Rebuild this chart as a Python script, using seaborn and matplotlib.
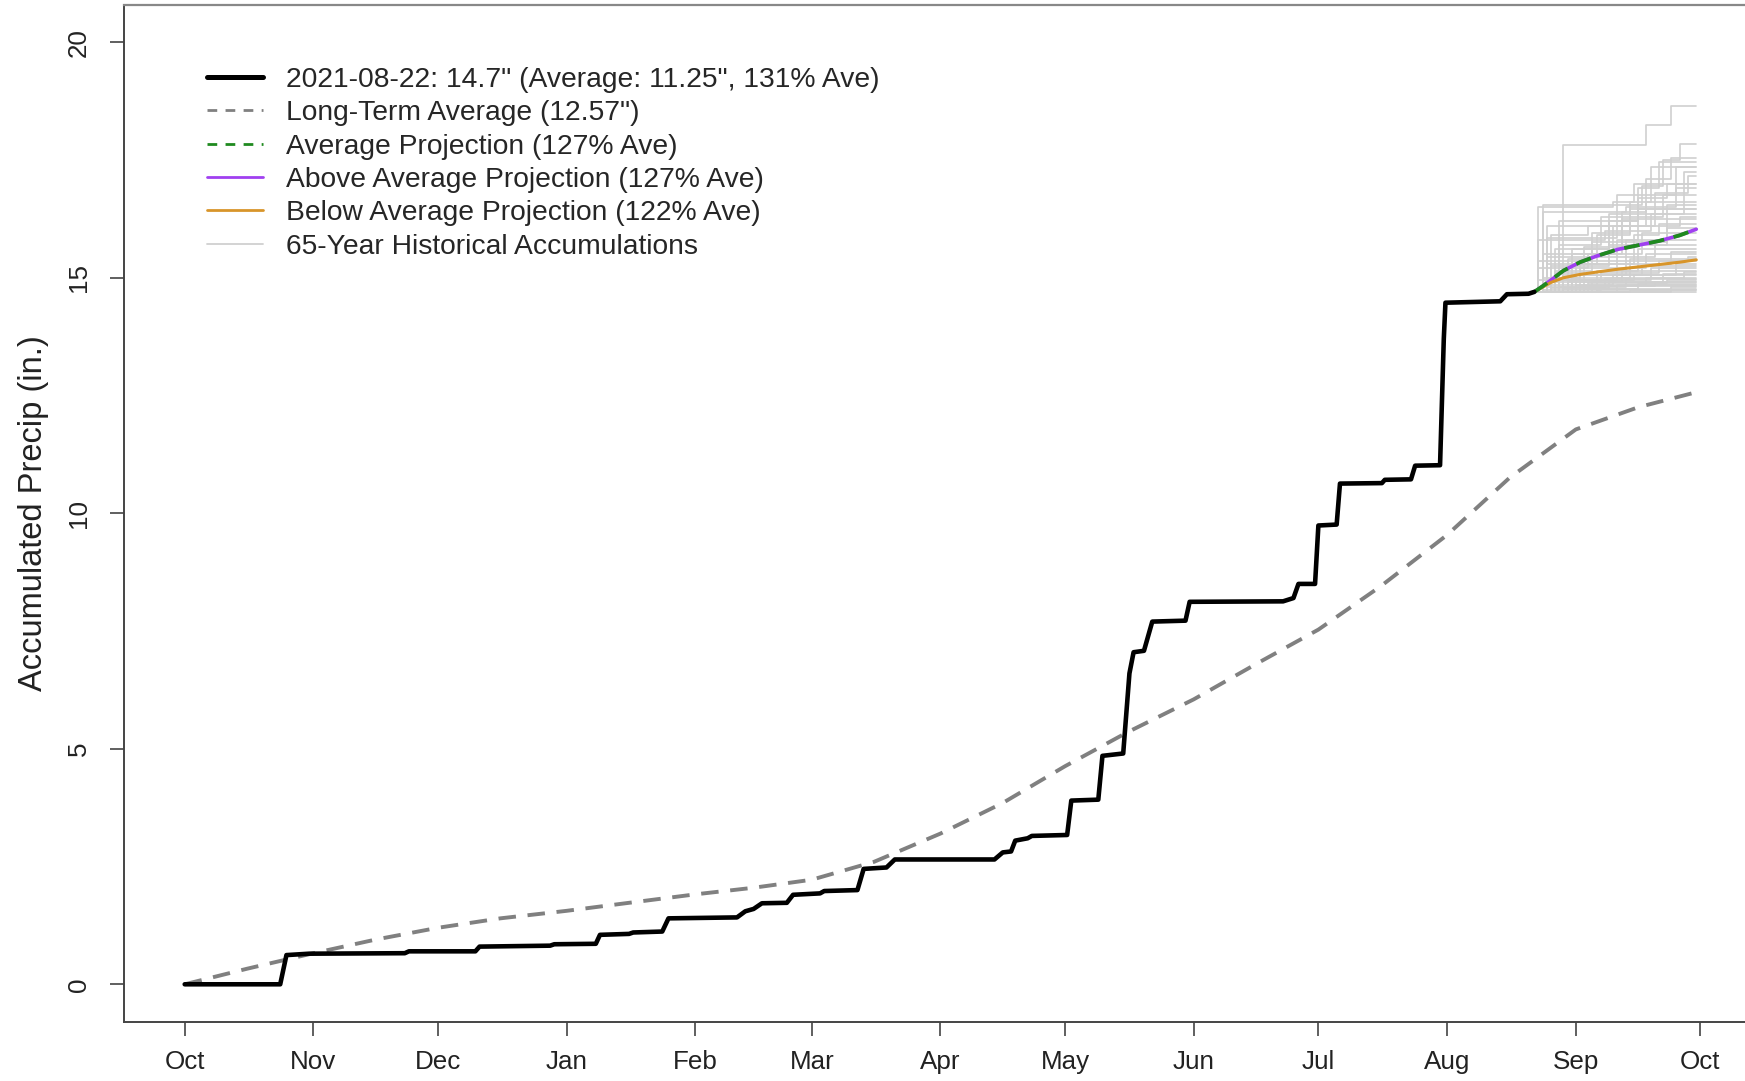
import pandas as pd
import seaborn as sns
import matplotlib.pyplot as plt

# x = day of water year (0 = Oct 1), y = accumulated precip (in.)
obs_day = [0, 23, 24.5, 30, 53, 54, 70, 71, 88, 89, 99, 100, 107, 108, 115, 116.5,
           133, 135, 137, 139, 145, 146.5, 153, 154, 162, 163.5, 169, 171, 195, 197,
           199, 200, 203, 204, 212.5, 213.5, 220, 221, 226, 227.5, 228.5, 231, 233,
           241, 242, 264.5, 267, 268.2, 272.2, 273, 277.4, 278.2, 288.3, 289, 295.3,
           296.3, 302.3, 303.2, 303.6, 316.8, 318.4, 323.6, 325]
obs_precip = [0, 0, 0.62, 0.65, 0.66, 0.7, 0.7, 0.8, 0.82, 0.85, 0.86, 1.05, 1.07, 1.1,
              1.12, 1.4, 1.42, 1.55, 1.6, 1.72, 1.73, 1.9, 1.93, 1.98, 2.0, 2.45, 2.48,
              2.65, 2.65, 2.8, 2.82, 3.05, 3.1, 3.15, 3.17, 3.9, 3.92, 4.85, 4.9, 6.6,
              7.05, 7.08, 7.7, 7.72, 8.12, 8.13, 8.2, 8.5, 8.5, 9.74, 9.76, 10.63, 10.64,
              10.71, 10.72, 11.01, 11.02, 13.7, 14.47, 14.5, 14.65, 14.66, 14.7]

avg_day = [0, 15, 31, 46, 61, 76, 92, 107, 123, 137, 151, 166, 182, 197, 212, 227,
           243, 258, 273, 288, 304, 319, 335, 350, 364]
avg_precip = [0, 0.33, 0.66, 0.95, 1.2, 1.4, 1.56, 1.73, 1.91, 2.05, 2.22, 2.6, 3.2,
              3.85, 4.63, 5.35, 6.05, 6.8, 7.53, 8.45, 9.54, 10.75, 11.78, 12.25, 12.57]

proj_day = [325, 327, 329, 332, 336, 340, 345, 350, 355, 360, 364]
proj_average = [14.7, 14.82, 14.95, 15.15, 15.33, 15.46, 15.6, 15.69, 15.78, 15.9, 16.03]
proj_above = [14.7, 14.82, 14.95, 15.15, 15.33, 15.46, 15.6, 15.69, 15.78, 15.9, 16.03]
proj_below = [14.7, 14.8, 14.9, 15.0, 15.07, 15.12, 15.18, 15.23, 15.28, 15.33, 15.38]

# historical years from Aug 22: (day, accumulated) step points
hist_steps = [
    [(325, 14.7), (332, 17.82), (352, 18.24), (358, 18.65)],
    [(325, 14.7), (327, 16.55), (351, 16.95), (356, 17.5), (360, 17.83)],
    [(325, 14.7), (330, 15.6), (343, 16.2), (350, 16.9), (355, 17.45)],
    [(325, 14.7), (328, 15.3), (340, 15.9), (348, 16.6), (353, 17.35)],
    [(325, 14.7), (334, 15.5), (346, 16.4), (352, 17.1), (358, 17.55)],
    [(325, 14.7), (326, 16.5), (344, 16.6), (349, 17.0), (361, 17.25)],
    [(325, 14.7), (329, 15.9), (338, 16.1), (354, 16.8), (362, 17.15)],
    [(325, 14.7), (336, 15.2), (345, 15.8), (350, 16.7), (357, 17.0)],
    [(325, 14.7), (327, 16.4), (347, 16.5), (359, 16.9)],
    [(325, 14.7), (331, 15.7), (341, 16.3), (356, 16.75)],
    [(325, 14.7), (328, 16.1), (352, 16.6)],
    [(325, 14.7), (333, 15.4), (339, 15.95), (348, 16.45)],
    [(325, 14.7), (326, 15.8), (342, 16.0), (353, 16.35)],
    [(325, 14.7), (330, 15.1), (337, 15.65), (346, 16.25)],
    [(325, 14.7), (327, 15.5), (344, 16.1), (360, 16.3)],
    [(325, 14.7), (335, 15.3), (349, 15.9), (355, 16.15)],
    [(325, 14.7), (329, 15.25), (343, 15.7), (357, 16.05)],
    [(325, 14.7), (326, 15.2), (338, 15.5), (351, 15.95)],
    [(325, 14.7), (332, 15.05), (347, 15.8)],
    [(325, 14.7), (328, 15.45), (354, 15.7)],
    [(325, 14.7), (340, 15.15), (350, 15.6)],
    [(325, 14.7), (327, 15.0), (336, 15.3), (358, 15.55)],
    [(325, 14.7), (331, 14.95), (345, 15.2), (352, 15.5)],
    [(325, 14.7), (326, 15.35), (362, 15.45)],
    [(325, 14.7), (334, 15.0), (348, 15.4)],
    [(325, 14.7), (329, 14.9), (341, 15.1), (355, 15.35)],
    [(325, 14.7), (337, 15.05), (359, 15.3)],
    [(325, 14.7), (327, 14.85), (344, 15.05), (351, 15.25)],
    [(325, 14.7), (330, 14.95), (353, 15.2)],
    [(325, 14.7), (339, 14.9), (346, 15.15)],
    [(325, 14.7), (328, 14.8), (342, 15.0), (361, 15.12)],
    [(325, 14.7), (333, 14.9), (356, 15.08)],
    [(325, 14.7), (326, 14.95), (349, 15.05)],
    [(325, 14.7), (335, 14.85), (352, 15.0)],
    [(325, 14.7), (331, 14.8), (347, 14.97)],
    [(325, 14.7), (338, 14.88), (357, 14.95)],
    [(325, 14.7), (329, 14.78), (343, 14.92)],
    [(325, 14.7), (336, 14.82), (354, 14.9)],
    [(325, 14.7), (332, 14.76), (350, 14.87)],
    [(325, 14.7), (345, 14.84)],
    [(325, 14.7), (327, 14.75), (341, 14.82)],
    [(325, 14.7), (358, 14.8)],
    [(325, 14.7), (337, 14.77)],
    [(325, 14.7), (348, 14.75)],
    [(325, 14.7), (340, 14.73)],
    [(325, 14.7)],
    [(325, 14.7), (330, 15.15), (339, 15.75), (357, 16.55)],
    [(325, 14.7), (334, 15.6), (343, 16.35), (361, 17.0)],
    [(325, 14.7), (328, 15.85), (345, 16.75), (359, 17.35)],
    [(325, 14.7), (331, 16.2), (350, 16.45)],
]
hist_end_day = 364

month_ticks = [0, 31, 61, 92, 123, 151, 182, 212, 243, 273, 304, 335, 365]
month_labels = ['Oct', 'Nov', 'Dec', 'Jan', 'Feb', 'Mar', 'Apr', 'May', 'Jun',
                'Jul', 'Aug', 'Sep', 'Oct']
y_ticks = [0, 5, 10, 15, 20]

labels = ['2021-08-22: 14.7" (Average: 11.25", 131% Ave)',
          'Long-Term Average (12.57")',
          'Average Projection (127% Ave)',
          'Above Average Projection (127% Ave)',
          'Below Average Projection (122% Ave)',
          '65-Year Historical Accumulations']

sns.set_theme(style='white')
plt.rcParams['font.family'] = ['Liberation Sans', 'DejaVu Sans']

rows = []
for i, steps in enumerate(hist_steps):
    for d, v in steps:
        rows.append((i, d, v))
    rows.append((i, hist_end_day, steps[-1][1]))
hist_df = pd.DataFrame(rows, columns=['year', 'day', 'precip'])

fig = plt.figure(figsize=(17.45, 10.81), dpi=100)
ax = fig.add_axes([0.0711, 0.0546, 0.9381, 0.9412])

sns.lineplot(data=hist_df, x='day', y='precip', units='year', estimator=None,
             color='#d0d0d0', linewidth=1.2, drawstyle='steps-post', ax=ax,
             legend=False)
sns.lineplot(x=avg_day, y=avg_precip, color='#808080', linewidth=2.8,
             ax=ax, linestyle=(0, (4.5, 3)))
sns.lineplot(x=proj_day, y=proj_above, color='#a040f0', linewidth=2.6, ax=ax)
sns.lineplot(x=proj_day, y=proj_below, color='#d8952a', linewidth=2.2, ax=ax)
sns.lineplot(x=proj_day, y=proj_average, color='#1f8a1f', linewidth=2.8, ax=ax,
             linestyle=(0, (4, 2.5)))
sns.lineplot(x=obs_day, y=obs_precip, color='black', linewidth=3.3, ax=ax, sort=False)

handles = [
    plt.Line2D([], [], color='black', linewidth=3.6),
    plt.Line2D([], [], color='#808080', linewidth=2.0, linestyle=(0, (3.5, 3))),
    plt.Line2D([], [], color='#1f8a1f', linewidth=2.0, linestyle=(0, (3.5, 3))),
    plt.Line2D([], [], color='#a040f0', linewidth=2.0),
    plt.Line2D([], [], color='#d8952a', linewidth=2.0),
    plt.Line2D([], [], color='#d0d0d0', linewidth=1.3),
]
fig.legend(handles, labels, loc='upper left', bbox_to_anchor=(0.1186, 0.938),
           frameon=False, fontsize=20.3, handlelength=2.0, handletextpad=0.8,
           labelspacing=0.26, borderpad=0, borderaxespad=0)

ax.set_xlim(-14.6, 379.6)
ax.set_ylim(-0.8, 20.8)
ax.set_xticks(month_ticks)
ax.set_xticklabels(month_labels)
ax.set_yticks(y_ticks)
ax.set_yticklabels([str(v) for v in y_ticks], rotation=90, va='center')
ax.set_xlabel('')
ax.set_ylabel('Accumulated Precip (in.)', fontsize=23.5, labelpad=13, color='#222222')
ax.tick_params(axis='both', which='both', direction='out', length=10, width=1.2,
               color='#444444', labelsize=18.7, labelcolor='#222222', pad=10,
               bottom=True, left=True)
ax.tick_params(axis='y', pad=14)
for side in ['left', 'bottom', 'right']:
    ax.spines[side].set_color('#444444')
    ax.spines[side].set_linewidth(1.4)
ax.spines['top'].set_color('#888888')
ax.spines['top'].set_linewidth(1.6)

fig.savefig('out.png', dpi=100)
